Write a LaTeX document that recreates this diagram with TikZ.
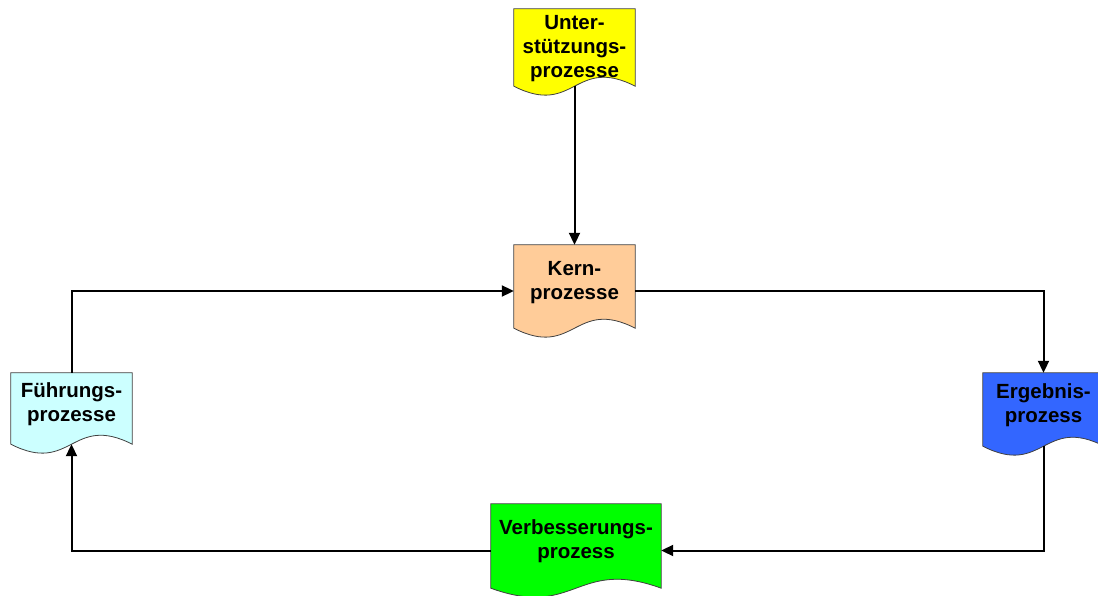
\documentclass[tikz,border=0pt]{standalone}
\usepackage{fontspec}
\setmainfont{Liberation Sans}
\usetikzlibrary{arrows.meta,backgrounds}

\definecolor{unterYellow}{HTML}{FFFF00}
\definecolor{kernPeach}{HTML}{FFCC99}
\definecolor{fuehrCyan}{HTML}{CCFFFF}
\definecolor{ergebBlue}{HTML}{3366FF}
\definecolor{verbGreen}{HTML}{00FF00}
\definecolor{docEdge}{HTML}{404040}

\tikzset{
  docnode/.style={align=center, inner sep=0pt, minimum width=121pt,
    font=\bfseries\fontsize{20.5}{24}\selectfont, text depth=22pt},
  docline/.style={draw=docEdge, line width=0.8pt},
  flow/.style={line width=2pt, -{Triangle[length=12pt,width=11pt]}},
}

\begin{document}
\begin{tikzpicture}[x=1pt,y=-1pt]
    \useasboundingbox (0,0) rectangle (1098,596);

    % Boxes
    \node[docnode, minimum height=86pt, text depth=12pt] (unter) at (574.5,52) {Unter-\\stützungs-\\prozesse};
    \node[docnode, minimum height=92pt] (kern) at (574.5,291) {Kern-\\prozesse};
    \node[docnode, minimum height=80pt] (fuehr) at (71.5,413) {Führungs-\\prozesse};
    \node[docnode, minimum height=82pt] (ergeb) at (1043.5,414) {Ergebnis-\\prozess};
    \node[docnode, minimum width=170pt, minimum height=93pt] (verb) at (576,550.5) {Verbesserungs-\\prozess};

    % Outlines
    \begin{scope}[on background layer]
        \foreach \n/\c in {unter/unterYellow, kern/kernPeach, fuehr/fuehrCyan, ergeb/ergebBlue, verb/verbGreen}
            \draw[docline, fill=\c] (\n.north west) -- (\n.north east) -- ([yshift=9pt]\n.south east)
                .. controls ([yshift=40pt]\n.south) and ([yshift=-22pt]\n.south) .. ([yshift=9pt]\n.south west) -- cycle;
    \end{scope}

    % Arrows
    \draw[flow] ([yshift=9pt]unter.south) -- (kern.north);
    \draw[flow] (fuehr.north) |- (kern.west);
    \draw[flow] (kern.east) -| (ergeb.north);
    \draw[flow] ([yshift=9pt]ergeb.south) |- (verb.east);
    \draw[flow] (verb.west) -| ([yshift=9pt]fuehr.south);
\end{tikzpicture}
\end{document}
